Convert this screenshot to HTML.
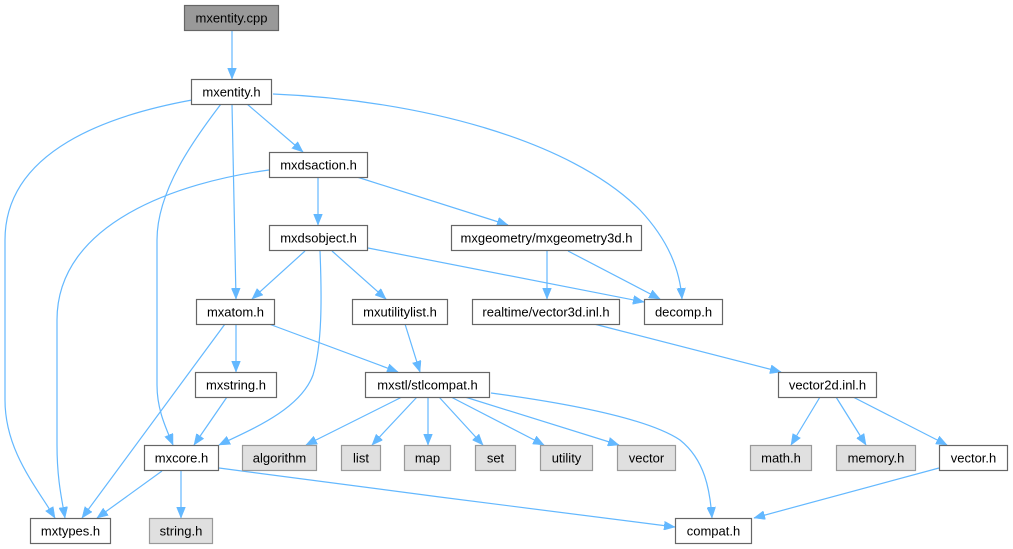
<!DOCTYPE html>
<html>
<head>
<meta charset="utf-8">
<style>
  html,body{margin:0;padding:0;background:#fff;}
  svg{display:block;}
  text{font-family:"Liberation Sans",Arial,sans-serif;font-size:13px;fill:#000;text-anchor:middle;}
  .e{fill:none;stroke:#63b8ff;stroke-width:1.2;}
  .n{fill:#fff;stroke:#666;stroke-width:1.2;}
  .g{fill:#e0e0e0;stroke:#999;stroke-width:1.2;}
  .r{fill:#999;stroke:#666;stroke-width:1.2;}
</style>
</head>
<body>
<svg width="1013" height="549" viewBox="0 0 1013 549" xmlns="http://www.w3.org/2000/svg">
  <defs>
    <marker id="a" markerUnits="userSpaceOnUse" markerWidth="12" markerHeight="9" refX="11" refY="4.5" orient="auto">
      <path d="M0,0 L11,4.5 L0,9 z" fill="#63b8ff" stroke="#63b8ff" stroke-width="0.5"/>
    </marker>
  </defs>

  <!-- edges -->
  <g class="e" marker-end="url(#a)">
    <path d="M232,31 L232,79"/>
    <path d="M192,100 C110,115 5,150 5,240 L5,400 C5,450 35,485 55,518"/>
    <path d="M221,104 C195,138 157,190 157,240 L157,385 C157,410 166,428 173,445"/>
    <path d="M232,104 L236,299"/>
    <path d="M247,104 L303,152"/>
    <path d="M273,94 C420,100 570,140 640,210 C670,242 680,272 682,299"/>
    <path d="M269,170 C180,182 57,222 57,320 L57,445 C57,480 62,500 65,518"/>
    <path d="M318,177 L318,225"/>
    <path d="M357,177 L508,225"/>
    <path d="M305,251 L252,299"/>
    <path d="M332,251 L386,299"/>
    <path d="M320,251 C322,300 322,345 313,375 C300,410 250,430 219,445"/>
    <path d="M368,248 L644,302"/>
    <path d="M547,251 L547,299"/>
    <path d="M568,251 L660,299"/>
    <path d="M225,324 L82,518"/>
    <path d="M236,324 L236,372"/>
    <path d="M269,324 L398,372"/>
    <path d="M405,324 L420,372"/>
    <path d="M594,324 L781,372"/>
    <path d="M227,397 L194,445"/>
    <path d="M402,397 L306,445"/>
    <path d="M417,397 L372,445"/>
    <path d="M428,397 L428,445"/>
    <path d="M439,397 L483,445"/>
    <path d="M451,397 L544,445"/>
    <path d="M465,397 L619,445"/>
    <path d="M491,393 C580,405 650,420 680,440 C705,460 710,490 712,518"/>
    <path d="M162,471 L97,518"/>
    <path d="M181,471 L181,518"/>
    <path d="M219,468 C350,485 550,512 675,527"/>
    <path d="M820,397 L791,445"/>
    <path d="M836,397 L866,445"/>
    <path d="M853,397 L947,445"/>
    <path d="M939,468 L754,518"/>
  </g>

  <!-- nodes -->
  <rect class="r" x="184.5" y="5.5" width="94" height="25"/>
  <text x="231.5" y="22.5">mxentity.cpp</text>

  <rect class="n" x="191.5" y="79.5" width="80" height="25"/>
  <text x="231.5" y="96.5">mxentity.h</text>

  <rect class="n" x="269.5" y="152.5" width="98" height="25"/>
  <text x="318.5" y="169.5">mxdsaction.h</text>

  <rect class="n" x="269.5" y="225.5" width="98" height="25"/>
  <text x="318.5" y="242.5">mxdsobject.h</text>

  <rect class="n" x="451.5" y="225.5" width="190" height="25"/>
  <text x="546.5" y="242.5">mxgeometry/mxgeometry3d.h</text>

  <rect class="n" x="196.5" y="299.5" width="78" height="25"/>
  <text x="235.5" y="316.5">mxatom.h</text>

  <rect class="n" x="352.5" y="299.5" width="95" height="25"/>
  <text x="400" y="316.5">mxutilitylist.h</text>

  <rect class="n" x="472.5" y="299.5" width="147" height="25"/>
  <text x="546" y="316.5">realtime/vector3d.inl.h</text>

  <rect class="n" x="644.5" y="299.5" width="78" height="25"/>
  <text x="683.5" y="316.5">decomp.h</text>

  <rect class="n" x="195.5" y="372.5" width="81" height="25"/>
  <text x="236" y="389.5">mxstring.h</text>

  <rect class="n" x="365.5" y="372.5" width="124" height="25"/>
  <text x="427.5" y="389.5">mxstl/stlcompat.h</text>

  <rect class="n" x="778.5" y="372.5" width="98" height="25"/>
  <text x="827.5" y="389.5">vector2d.inl.h</text>

  <rect class="n" x="144.5" y="445.5" width="74" height="25"/>
  <text x="181.5" y="462.5">mxcore.h</text>

  <rect class="g" x="242.5" y="445.5" width="74" height="25"/>
  <text x="279.5" y="462.5">algorithm</text>

  <rect class="g" x="341.5" y="445.5" width="39" height="25"/>
  <text x="361" y="462.5">list</text>

  <rect class="g" x="404.5" y="445.5" width="46" height="25"/>
  <text x="427.5" y="462.5">map</text>

  <rect class="g" x="475.5" y="445.5" width="40" height="25"/>
  <text x="495.5" y="462.5">set</text>

  <rect class="g" x="540.5" y="445.5" width="52" height="25"/>
  <text x="566.5" y="462.5">utility</text>

  <rect class="g" x="617.5" y="445.5" width="58" height="25"/>
  <text x="646.5" y="462.5">vector</text>

  <rect class="g" x="750.5" y="445.5" width="61" height="25"/>
  <text x="781" y="462.5">math.h</text>

  <rect class="g" x="836.5" y="445.5" width="79" height="25"/>
  <text x="876" y="462.5">memory.h</text>

  <rect class="n" x="939.5" y="445.5" width="68" height="25"/>
  <text x="973.5" y="462.5">vector.h</text>

  <rect class="n" x="30.5" y="518.5" width="80" height="25"/>
  <text x="70.5" y="535.5">mxtypes.h</text>

  <rect class="g" x="149.5" y="518.5" width="63" height="25"/>
  <text x="181" y="535.5">string.h</text>

  <rect class="n" x="675.5" y="518.5" width="76" height="25"/>
  <text x="713.5" y="535.5">compat.h</text>
</svg>
</body>
</html>
